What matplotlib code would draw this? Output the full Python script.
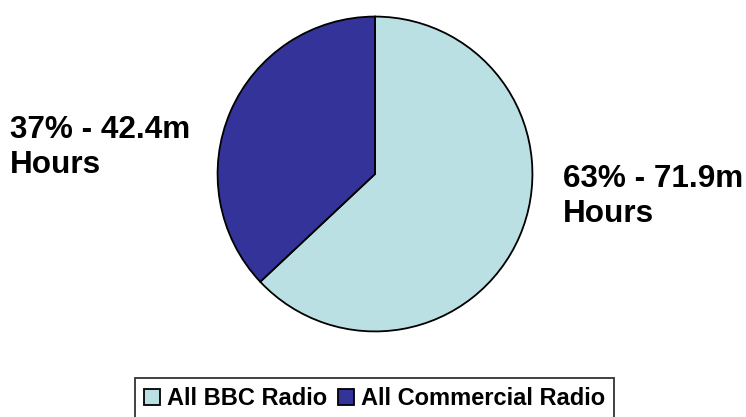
import matplotlib.pyplot as plt

plt.rcParams['font.family'] = ['Liberation Sans', 'DejaVu Sans']

# donnees
categories = ["All BBC Radio", "All Commercial Radio"]
parts = [63, 37]
hours = [71.9, 42.4]
colors = ["#BBE0E3", "#333399"]

fig = plt.figure(figsize=(7.46, 4.17), dpi=100)
ax = fig.add_axes([216 / 746, 84 / 417, 318 / 746, 318 / 417])

wedges, _ = ax.pie(parts, colors=colors, startangle=90, counterclock=False,
                   wedgeprops=dict(edgecolor="black", linewidth=1.3))
ax.set_xlim(-1.01, 1.01)
ax.set_ylim(-1.01, 1.01)

# etiquettes (va baseline = ligne du bas, "Hours")
fig.text(10 / 746, 1 - 173 / 417, "{}% - {}m\nHours".format(parts[1], hours[1]),
         ha="left", va="baseline", fontsize=22.7, fontweight="bold", linespacing=1.22)
fig.text(563 / 746, 1 - 222 / 417, "{}% - {}m\nHours".format(parts[0], hours[0]),
         ha="left", va="baseline", fontsize=22.7, fontweight="bold", linespacing=1.22)

# legende, coupee par le bas de l'image
leg = fig.legend(wedges, categories, loc="upper center",
                 bbox_to_anchor=(374.5 / 746, 1 - 378 / 417), borderaxespad=0,
                 ncol=2, frameon=True, fancybox=False, edgecolor="black",
                 prop=dict(size=17, weight="bold"), handlelength=0.68, handleheight=0.68,
                 handletextpad=0.3, columnspacing=0.47, borderpad=0.38)
leg.get_frame().set_linewidth(1.3)

fig.savefig("out.png", dpi=100)
